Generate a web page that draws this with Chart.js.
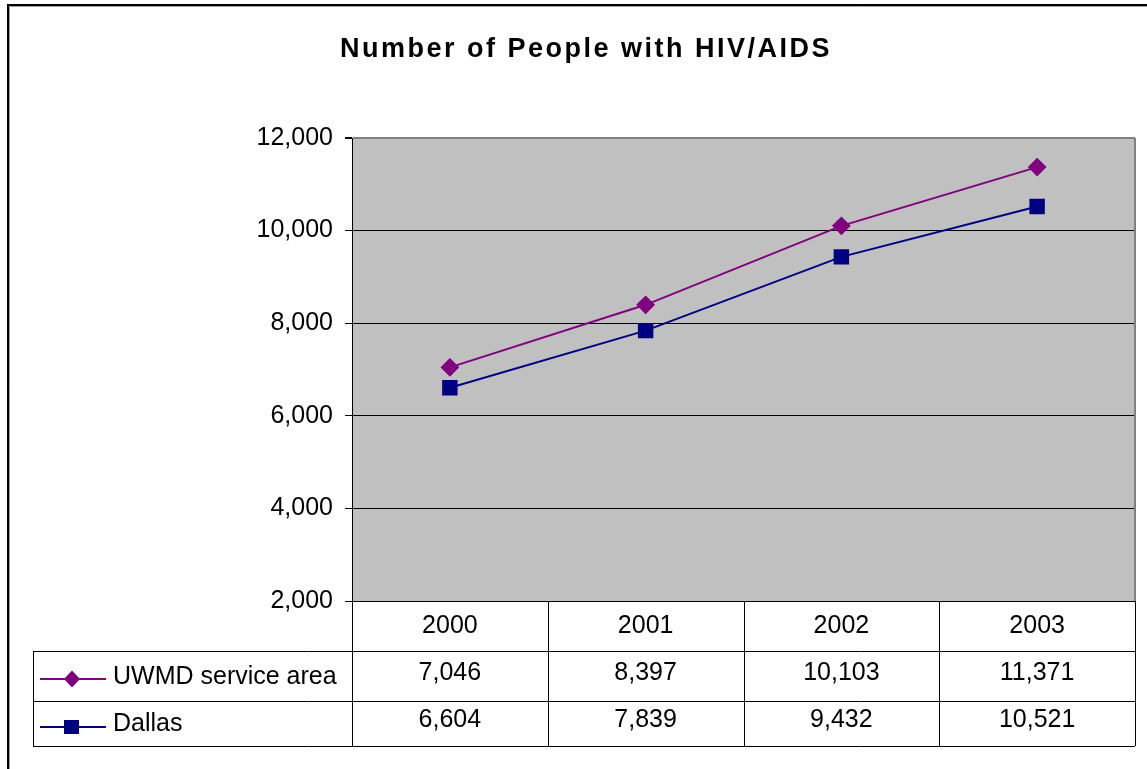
<!DOCTYPE html>
<html>
<head>
<meta charset="utf-8">
<script src="https://cdn.jsdelivr.net/npm/chart.js@4/dist/chart.umd.min.js"></script>
<style>
  body { margin: 0; background: #fff; }
  #wrap { width: 1147px; height: 769px; }
</style>
</head>
<body>
<div id="wrap"><canvas id="hivChart" width="1147" height="769"></canvas></div>
<script>
const chartTitle = "Number of People with HIV/AIDS";
const years = ["2000", "2001", "2002", "2003"];
const uwmdValues = [7046, 8397, 10103, 11371];
const dallasValues = [6604, 7839, 9432, 10521];
const yTicks = [2000, 4000, 6000, 8000, 10000, 12000];

const FONT = "'Liberation Sans', Arial, sans-serif";

// plot background, title, data table and outer frame
const tablePlugin = {
    id: "tablePlugin",
    beforeDraw(chart) {
        const ctx = chart.ctx;
        const a = chart.chartArea;
        ctx.save();
        ctx.fillStyle = "#fff";
        ctx.fillRect(0, 0, chart.width, chart.height);
        ctx.fillStyle = "#C0C0C0";
        ctx.fillRect(a.left, a.top, a.right - a.left, a.bottom - a.top);
        ctx.restore();
    },
    afterDraw(chart) {
        const ctx = chart.ctx;
        const a = chart.chartArea;
        const xs = chart.scales.x;
        const colW = xs.getPixelForValue(1) - xs.getPixelForValue(0);
        const headerBottom = a.bottom + 50;
        const row1Bottom = headerBottom + 50;
        const row2Bottom = row1Bottom + 45;
        const tableLeft = 33;

        ctx.save();
        // title (spaced out like the original)
        ctx.fillStyle = "#000";
        ctx.font = "bold 27px " + FONT;
        ctx.textAlign = "center";
        ctx.textBaseline = "alphabetic";
        ctx.letterSpacing = "2.5px";
        ctx.fillText(chartTitle, 586, 57);
        ctx.letterSpacing = "0px";

        // plot right border
        ctx.strokeStyle = "#808080";
        ctx.lineWidth = 2;
        ctx.beginPath();
        ctx.moveTo(a.right, a.top);
        ctx.lineTo(a.right, a.bottom);
        ctx.stroke();

        ctx.strokeStyle = "#000";
        ctx.lineWidth = 1;
        ctx.beginPath();
        ctx.moveTo(tableLeft, headerBottom + 0.5);
        ctx.lineTo(a.right, headerBottom + 0.5);
        ctx.moveTo(tableLeft, row1Bottom + 0.5);
        ctx.lineTo(a.right, row1Bottom + 0.5);
        ctx.moveTo(tableLeft, row2Bottom + 0.5);
        ctx.lineTo(a.right, row2Bottom + 0.5);
        ctx.moveTo(tableLeft + 0.5, headerBottom);
        ctx.lineTo(tableLeft + 0.5, row2Bottom);
        for (let i = 0; i <= years.length; i++) {
            const x = Math.round(xs.getPixelForValue(i) - colW / 2) + 0.5;
            ctx.moveTo(x, a.bottom);
            ctx.lineTo(x, row2Bottom);
        }
        ctx.stroke();

        // values
        ctx.fillStyle = "#000";
        ctx.font = "25px " + FONT;
        ctx.textAlign = "center";
        ctx.textBaseline = "middle";
        const rows = [
            { values: uwmdValues, y: headerBottom + 22, key: headerBottom + 28, label: headerBottom + 26 },
            { values: dallasValues, y: row1Bottom + 19, key: row1Bottom + 26, label: row1Bottom + 23 }
        ];
        rows.forEach(r => {
            r.values.forEach((v, i) => {
                ctx.fillText(v.toLocaleString("en-US"), xs.getPixelForValue(i), r.y);
            });
        });

        // legend keys in the table
        chart.data.datasets.forEach((ds, i) => {
            const y = rows[i].key;
            ctx.strokeStyle = ds.borderColor;
            ctx.lineWidth = 2;
            ctx.beginPath();
            ctx.moveTo(40, y);
            ctx.lineTo(106, y);
            ctx.stroke();
            ctx.fillStyle = ds.borderColor;
            ctx.beginPath();
            if (ds.pointStyle === "rectRot") {
                ctx.moveTo(72, y - 8.5);
                ctx.lineTo(80, y);
                ctx.lineTo(72, y + 8.5);
                ctx.lineTo(64, y);
            } else {
                ctx.rect(64, y - 7, 15, 14);
            }
            ctx.closePath();
            ctx.fill();
            ctx.fillStyle = "#000";
            ctx.textAlign = "left";
            ctx.fillText(ds.label, 113, rows[i].label);
        });

        // outer frame
        ctx.strokeStyle = "#000";
        ctx.lineWidth = 2;
        ctx.beginPath();
        ctx.moveTo(8, chart.height);
        ctx.lineTo(8, 5);
        ctx.lineTo(chart.width, 5);
        ctx.stroke();
        ctx.strokeStyle = "#a0a0a0";
        ctx.lineWidth = 1;
        ctx.beginPath();
        ctx.moveTo(9.5, chart.height);
        ctx.lineTo(9.5, 6.5);
        ctx.lineTo(chart.width, 6.5);
        ctx.stroke();
        ctx.restore();
    }
};

new Chart(document.getElementById("hivChart"), {
    type: "line",
    data: {
        labels: years,
        datasets: [{
            label: "UWMD service area",
            data: uwmdValues,
            borderColor: "#800080",
            backgroundColor: "#800080",
            borderWidth: 2,
            pointStyle: "rectRot",
            pointRadius: 8,
            tension: 0
        }, {
            label: "Dallas",
            data: dallasValues,
            borderColor: "#000080",
            backgroundColor: "#000080",
            borderWidth: 2,
            pointStyle: "rect",
            pointRadius: 9.5,
            tension: 0
        }]
    },
    options: {
        responsive: false,
        animation: false,
        layout: { padding: { left: 0, top: 138, right: 12, bottom: 118 } },
        plugins: {
            legend: { display: false },
            tooltip: { enabled: false },
            title: { display: false }
        },
        scales: {
            x: {
                offset: true,
                grid: { display: false },
                border: { display: false },
                ticks: { color: "#000", font: { family: FONT, size: 25 }, padding: 2 },
                afterFit(scale) { scale.height = 50; }
            },
            y: {
                min: 2000,
                max: 12000,
                afterBuildTicks(scale) { scale.ticks = yTicks.map(v => ({ value: v })); },
                ticks: {
                    color: "#000",
                    font: { family: FONT, size: 25 },
                    padding: 12,
                    callback: v => v.toLocaleString("en-US")
                },
                grid: {
                    color: ctx => (ctx.tick && ctx.tick.value === 12000) ? "#808080" : "#000",
                    lineWidth: ctx => (ctx.tick && ctx.tick.value === 12000) ? 2 : 1,
                    tickColor: "#000",
                    tickLength: 7
                },
                border: { color: "#000", width: 1 },
                afterFit(scale) { scale.width = 352; }
            }
        }
    },
    plugins: [tablePlugin]
});
</script>
</body>
</html>
